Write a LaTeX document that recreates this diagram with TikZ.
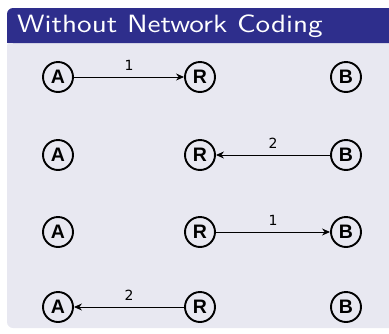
\documentclass[tikz,border=0pt]{standalone}
\usepackage{fontspec}
\newfontfamily\nodefont{Liberation Sans}
\newfontfamily\hopfont{DejaVu Sans}
\newfontfamily\titlefont{lmsans10-regular.otf}
\usetikzlibrary{arrows.meta}
\definecolor{blockhead}{HTML}{2E2E8C}
\definecolor{blockbody}{HTML}{E8E8F1}
\tikzset{
  station/.style={circle, draw=black, line width=1.9pt, minimum size=30pt, inner sep=0pt,
    font=\nodefont\bfseries\fontsize{19.5}{19.5}\selectfont},
  link/.style={line width=0.9pt, -{Stealth[length=8pt,width=7pt]}},
  hop/.style={font=\hopfont\fontsize{14}{14}\selectfont, above, inner sep=6.5pt}
}
\begin{document}
\begin{tikzpicture}[x=1pt,y=-1pt]
\useasboundingbox (0,0) rectangle (389,333);
% block body and title bar
\fill[blockbody, rounded corners=6pt] (7,40) -- (7,328) -- (400,328) -- (400,40) -- cycle;
\fill[blockhead, rounded corners=6pt] (7,43) -- (7,8) -- (400,8) -- (400,43) -- cycle;
\fill[blockhead] (7,36) rectangle (400,43);
\node[anchor=base west, text=white, inner sep=0pt,
  font=\titlefont\fontsize{25}{25}\selectfont]
  (title) at (17,32.5) {\scalebox{1.165}[1]{Without Network Coding}};
% row 1: A -> R
\node[station] (a1) at (58,77) {A};
\node[station] (r1) at (200,77) {R};
\node[station] (b1) at (346,77) {B};
\draw[link] (a1) -- node[hop] {1} (r1);
% row 2: B -> R
\node[station] (a2) at (58,155) {A};
\node[station] (r2) at (200,155) {R};
\node[station] (b2) at (346,155) {B};
\draw[link] (b2) -- node[hop] {2} (r2);
% row 3: R -> B
\node[station] (a3) at (58,232) {A};
\node[station] (r3) at (200,232) {R};
\node[station] (b3) at (346,232) {B};
\draw[link] (r3) -- node[hop] {1} (b3);
% row 4: R -> A
\node[station] (a4) at (58,307) {A};
\node[station] (r4) at (200,307) {R};
\node[station] (b4) at (346,307) {B};
\draw[link] (r4) -- node[hop] {2} (a4);
\end{tikzpicture}
\end{document}
